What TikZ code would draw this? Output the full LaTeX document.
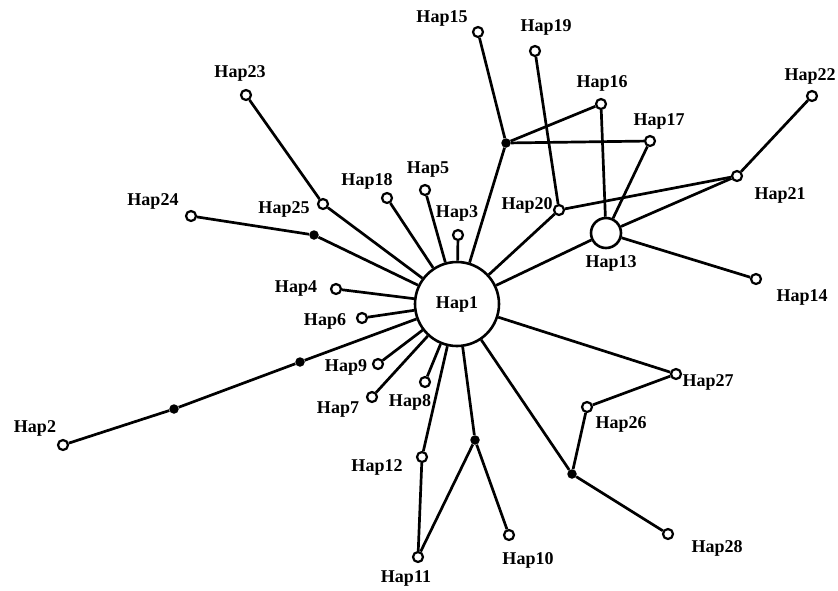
\documentclass[tikz,border=0pt]{standalone}
\usepackage{fontspec}
\setmainfont{Liberation Serif}
\begin{document}
\begin{tikzpicture}[x=1pt,y=-1pt,
  hap/.style={circle,draw,line width=2.2pt,fill=white,minimum size=10pt,inner sep=0pt},
  med/.style={circle,fill=black,minimum size=9.5pt,inner sep=0pt},
  big/.style={circle,draw,line width=2.6pt,fill=white,inner sep=0pt,font=\fontsize{18}{18}\selectfont\bfseries},
  lab/.style={font=\fontsize{18}{18}\selectfont\bfseries,inner sep=0pt},
  edge/.style={line width=2.7pt}]
\useasboundingbox[fill=white] (0,0) rectangle (838,590);
% haplotype circles
\node[big,minimum size=84pt] (h1) at (457,304) {Hap1};
\node[big,minimum size=30pt] (h13) at (606,233) {};
\node[hap] (h2) at (63,445) {};
\node[hap] (h3) at (458,235) {};
\node[hap] (h4) at (336,289) {};
\node[hap] (h5) at (425,190) {};
\node[hap] (h6) at (362,318) {};
\node[hap] (h7) at (372,397) {};
\node[hap] (h8) at (425,382) {};
\node[hap] (h9) at (378,364) {};
\node[hap] (h10) at (509,535) {};
\node[hap] (h11) at (418,557) {};
\node[hap] (h12) at (422,457) {};
\node[hap] (h14) at (756,279) {};
\node[hap] (h15) at (478,32) {};
\node[hap] (h16) at (601,104) {};
\node[hap] (h17) at (650,141) {};
\node[hap] (h18) at (387,198) {};
\node[hap] (h19) at (535,51) {};
\node[hap] (h20) at (559,210) {};
\node[hap] (h21) at (737,176) {};
\node[hap] (h22) at (812,96) {};
\node[hap] (h23) at (246,95) {};
\node[hap] (h24) at (191,216) {};
\node[hap] (h25) at (323,204) {};
\node[hap] (h26) at (587,407) {};
\node[hap] (h27) at (676,374) {};
\node[hap] (h28) at (668,534) {};
% median vectors
\node[med] (m1) at (300,362) {};
\node[med] (m2) at (174,409) {};
\node[med] (m3) at (314,235) {};
\node[med] (m4) at (475,440) {};
\node[med] (m5) at (572,474) {};
\node[med] (m6) at (506,143) {};
% edges
\begin{scope}[edge]
\draw (h1) -- (m1) -- (m2) -- (h2);
\draw (h1) -- (m3) -- (h24);
\draw (h1) -- (h25) -- (h23);
\draw (h1) -- (h18);
\draw (h1) -- (h5);
\draw (h1) -- (h3);
\draw (h1) -- (h4);
\draw (h1) -- (h6);
\draw (h1) -- (h9);
\draw (h1) -- (h7);
\draw (h1) -- (h8);
\draw (h1) -- (h12) -- (h11);
\draw (h1) -- (m4) -- (h11);
\draw (m4) -- (h10);
\draw (h1) -- (m5) -- (h26);
\draw (m5) -- (h28);
\draw (h1) -- (h27) -- (h26);
\draw (h1) -- (h13) -- (h14);
\draw (h13) -- (h21);
\draw (h13) -- (h16);
\draw (h13) -- (h17);
\draw (h1) -- (h20) -- (h21);
\draw (h20) -- (h19);
\draw (h1) -- (m6) -- (h15);
\draw (m6) -- (h16);
\draw (m6) -- (h17);
\draw (h21) -- (h22);
\end{scope}
% labels
\begin{scope}[lab]
\node (l2) at (35,428) {Hap2};
\node (l3) at (457,213) {Hap3};
\node (l4) at (296,288) {Hap4};
\node (l5) at (428,170) {Hap5};
\node (l6) at (325,321) {Hap6};
\node (l7) at (338,410) {Hap7};
\node (l8) at (410,402) {Hap8};
\node (l9) at (346,367) {Hap9};
\node (l10) at (528,560) {Hap10};
\node (l11) at (406,578) {Hap11};
\node (l12) at (377,467) {Hap12};
\node (l13) at (611,263) {Hap13};
\node (l14) at (802,297) {Hap14};
\node (l15) at (442,18) {Hap15};
\node (l16) at (602,83) {Hap16};
\node (l17) at (659,121) {Hap17};
\node (l18) at (367,181) {Hap18};
\node (l19) at (546,27) {Hap19};
\node (l20) at (527,205) {Hap20};
\node (l21) at (780,195) {Hap21};
\node (l22) at (810,76) {Hap22};
\node (l23) at (240,73) {Hap23};
\node (l24) at (153,201) {Hap24};
\node (l25) at (284,209) {Hap25};
\node (l26) at (621,424) {Hap26};
\node (l27) at (708,382) {Hap27};
\node (l28) at (717,548) {Hap28};
\end{scope}
\end{tikzpicture}
\end{document}
